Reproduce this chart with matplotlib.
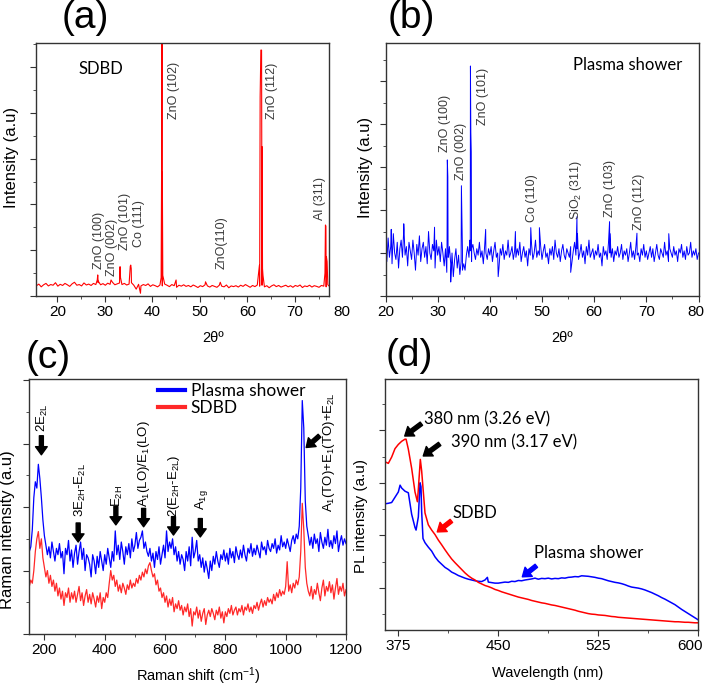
import numpy as np
import matplotlib
matplotlib.use('Agg')
import matplotlib.pyplot as plt
from matplotlib.lines import Line2D
from matplotlib.ticker import MultipleLocator

plt.rcParams['font.family'] = 'Liberation Sans'
plt.rcParams['mathtext.fontset'] = 'custom'
plt.rcParams['mathtext.rm'] = 'Liberation Sans'
plt.rcParams['mathtext.default'] = 'regular'

# ---------------- (a) XRD, SDBD ----------------
xa = np.arange(124) * 0.5 + 15.6
ya = [0.45,0.52,0.40,0.49,0.55,0.44,0.50,0.47,0.58,0.43,0.51,0.46,0.55,0.49,0.42,0.53,0.60,0.47,0.50,0.44,0.57,0.48,0.52,0.46,
      0.55,0.50,0.58,0.49,0.54,0.47,0.56,0.51,0.60,0.49,0.53,0.57,0.50,0.55,0.48,0.52,0.58,0.47,0.30,0.51,
      0.44,0.50,0.46,0.53,0.42,0.49,0.45,0.40,0.48,0.44,0.52,0.47,0.41,0.50,0.45,0.38,0.47,0.43,0.49,0.42,
      0.46,0.40,0.48,0.43,0.37,0.45,0.41,0.49,0.44,0.39,0.46,0.42,0.38,0.47,0.43,0.40,0.48,0.36,0.44,0.41,
      0.45,0.39,0.47,0.42,0.50,0.44,0.38,0.46,0.41,0.48,0.43,0.47,0.40,0.45,0.36,0.44,0.49,0.41,0.46,0.39,
      0.43,0.47,0.40,0.45,0.38,0.46,0.42,0.48,0.37,0.44,0.41,0.47,0.39,0.45,0.42,0.38,0.46,0.43,0.40,0.45]
peaks_a = [(28.4,0.70),(28.5,0.92),(28.6,0.65),(31.3,0.70),
           (33.1,0.90),(33.2,1.28),(33.3,0.80),
           (35.35,1.30),(35.45,1.35),(35.55,1.20),(37.5,0.12),
           (41.85,0.80),(41.95,5.65),(42.0,11.5),(42.05,11.5),(42.1,5.40),(42.2,0.90),
           (45.0,0.70),(51.2,0.62),(54.3,0.60),
           (62.55,1.35),(62.7,8.70),(62.85,10.74),(63.0,10.74),(63.1,6.52),(63.2,1.20),(63.3,0.90),
           (76.35,1.00),(76.45,3.10),(76.55,3.05),(76.65,1.72),(76.8,1.50),(76.95,0.50)]
labels_a = [("ZnO (102)", 44.6, 7.75), ("ZnO (112)", 65.3, 7.75), ("Al (311)", 75.2, 3.3),
            ("ZnO(110)", 54.5, 1.2), ("ZnO (100)", 28.7, 1.2), ("ZnO (002)", 31.4, 0.87),
            ("ZnO (101)", 34.3, 2.0), ("Co (111)", 37.2, 2.14)]

# ---------------- (b) XRD, plasma shower ----------------
xb = np.arange(241) * 0.25 + 20
yb = [2.4,1.6,2.7,1.8,2.3,1.5,2.9,2.0,1.7,2.5,1.3,2.2,2.6,1.8,3.1,1.9,2.3,1.4,2.5,2.1,
      1.7,2.6,2.0,1.2,2.4,1.9,2.8,1.6,2.2,2.5,1.8,2.3,1.5,3.0,2.0,1.7,2.4,2.1,1.3,2.6,
      1.9,2.3,1.6,2.5,2.0,1.4,2.2,1.1,1.8,2.3,1.5,2.0,0.9,1.7,2.2,1.3,1.9,1.0,1.6,2.1,
      1.5,1.2,1.9,2.3,1.8,2.1,1.6,2.4,2.0,1.7,2.2,1.9,2.5,1.8,2.1,1.5,2.3,2.0,1.7,2.2,
      1.9,2.3,1.6,2.1,2.5,1.8,2.0,1.3,2.2,1.9,2.4,1.7,2.1,1.9,2.6,1.8,2.0,2.3,1.7,2.1,
      1.8,2.2,1.9,2.5,1.6,2.0,2.3,1.8,2.1,1.4,2.2,1.9,2.4,1.7,2.0,2.6,1.8,2.1,1.9,2.3,
      1.7,2.1,2.4,1.8,2.0,1.5,2.2,1.9,2.3,1.7,2.6,2.0,1.8,2.2,1.6,2.1,2.4,1.9,1.7,2.2,
      2.0,1.8,2.3,1.6,2.1,2.5,1.9,2.2,1.7,2.0,2.4,1.8,2.1,1.5,2.3,1.9,2.6,1.8,2.0,2.2,
      1.7,2.1,1.9,2.4,1.8,2.0,1.4,2.3,1.9,2.1,1.7,2.5,2.0,1.8,2.2,1.6,2.1,1.9,2.3,1.8,
      2.0,2.4,1.7,2.1,1.9,2.2,1.6,2.0,2.5,1.8,2.1,1.7,2.3,1.9,2.0,1.6,2.2,1.9,2.4,1.8,
      2.1,1.7,2.0,2.3,1.8,2.2,1.6,2.0,2.4,1.9,1.7,2.2,2.0,1.8,2.5,1.9,2.1,1.6,2.2,2.0,
      1.8,2.3,1.9,2.1,1.6,2.2,2.0,2.4,1.8,2.1,1.7,2.3,1.9,2.0,2.5,1.8,2.1,1.9,2.2,1.7,
      2.0]
peaks_b = [(31.8,2.5),(31.85,6.33),(31.95,5.55),(32.05,1.8),
           (34.5,2.2),(34.55,5.13),(34.65,3.69),(34.75,1.2),
           (36.2,2.6),(36.28,10.7),(36.36,7.6),(36.44,6.7),(36.52,2.2),
           (21.1,3.1),(23.5,3.36),(29.4,3.2),(32.5,0.65),(39.2,3.1),(41.6,0.9),(44.9,3.0),
           (47.85,3.18),(49.5,3.18),(55.5,1.1),
           (56.7,3.69),(56.8,2.9),(62.95,3.46),(63.05,2.9),(68.2,2.92),(74.3,2.9)]
labels_b = [("ZnO (100)", 31.5, 6.71), ("ZnO (002)", 34.5, 5.4), ("ZnO (101)", 38.7, 7.95),
            ("Co (110)", 48.1, 3.46), ("SiO$_2$ (311)", 56.6, 3.53), ("ZnO (103)", 63.0, 3.69),
            ("ZnO (112)", 68.6, 3.07)]

# ---------------- (c) Raman ----------------
xc = np.arange(211) * 5 + 150
yc_plasma = [2.6,2.75,3.3,4.3,4.8,4.6,5.35,4.9,4.3,3.6,
             3.1,2.8,2.5,2.75,2.4,2.9,2.6,2.3,2.7,2.5,
             2.85,2.4,2.6,1.9,2.7,2.5,2.95,2.3,2.65,2.1,
             2.55,2.8,2.2,2.6,2.9,2.35,2.7,2.0,2.5,2.4,
             2.2,1.8,2.5,2.3,1.9,2.45,2.1,2.6,2.3,2.0,
             2.5,2.2,2.7,2.4,2.1,2.6,2.3,3.25,2.5,2.8,
             2.35,2.9,2.6,2.2,2.75,2.5,2.85,2.4,3.0,2.6,
             2.8,3.2,2.7,2.95,3.05,3.25,2.7,2.9,2.6,2.45,
             2.7,2.3,2.55,2.1,2.6,2.35,2.75,2.2,2.5,2.8,
             2.4,3.25,2.6,2.9,2.7,3.0,2.5,2.75,2.3,2.6,
             2.2,2.5,2.35,2.0,2.6,2.3,2.75,2.15,3.05,2.4,
             2.6,2.95,2.3,2.5,2.1,2.4,1.95,2.3,2.05,1.75,
             2.3,2.0,2.45,2.2,2.6,2.3,2.1,2.5,2.35,2.65,
             2.3,2.55,2.2,2.7,2.4,2.6,2.25,2.75,2.5,2.35,
             2.65,2.4,2.8,2.5,2.3,2.7,2.55,2.85,2.45,2.7,
             2.5,2.8,2.6,2.4,2.9,2.65,2.75,2.5,2.95,2.7,
             2.6,2.85,2.7,3.0,2.55,2.8,2.65,3.1,2.75,2.9,
             2.7,3.0,2.8,2.6,2.95,3.1,2.85,3.15,3.0,3.4,
             4.6,7.36,6.5,4.2,3.4,3.1,2.8,3.05,2.7,3.15,
             2.85,3.0,2.6,3.2,2.9,2.7,3.05,2.8,3.3,2.75,
             2.95,2.7,3.1,2.85,3.25,2.6,2.9,3.1,2.8,3.0,
             2.85]
yc_sdbd = [1.5,1.7,1.6,2.0,2.6,3.0,3.23,2.7,3.0,2.4,
           2.1,1.8,2.0,1.6,1.85,1.5,1.7,1.35,1.6,1.2,
           1.45,1.1,1.35,0.9,1.3,1.15,1.45,1.0,1.3,1.1,
           1.35,1.0,1.25,1.5,1.05,1.3,0.9,1.2,1.4,1.0,
           1.25,0.95,1.3,1.1,0.85,1.2,1.0,1.3,0.8,1.15,
           1.0,1.3,1.15,1.6,2.0,1.7,1.85,1.5,1.7,1.35,
           1.55,1.3,1.6,1.45,1.25,1.55,1.4,1.7,1.45,1.6,
           1.5,1.75,1.6,1.85,1.7,1.95,1.8,2.05,1.9,2.15,
           2.25,2.0,1.8,1.9,1.55,1.7,1.35,1.45,1.15,1.3,
           1.0,1.2,0.85,1.1,0.9,1.15,0.7,0.95,0.8,1.05,
           0.75,0.9,0.6,0.85,0.7,0.95,0.55,0.8,0.25,0.7,
           0.6,0.85,0.5,0.75,0.4,0.65,0.8,0.3,0.6,0.75,
           0.55,0.8,0.65,0.45,0.75,0.6,0.85,0.5,0.7,0.35,
           0.7,0.55,0.8,0.65,0.9,0.6,0.75,0.85,0.6,0.8,
           0.7,0.9,0.6,0.85,0.75,0.95,0.7,0.85,0.65,0.9,
           0.8,1.0,0.75,0.95,1.1,0.85,1.05,0.9,1.15,1.0,
           1.1,0.95,1.25,1.05,1.3,1.15,1.4,1.2,1.35,1.25,
           1.5,2.28,1.35,1.55,1.3,1.6,1.45,1.7,1.55,1.8,
           2.6,4.12,3.3,2.1,1.6,1.35,1.2,1.5,1.1,1.4,
           1.25,1.6,1.3,1.05,1.45,1.7,1.2,1.5,1.35,1.65,
           1.3,1.55,1.1,1.45,1.75,1.25,1.5,1.35,1.6,1.2,
           1.4]
# (label, text x, text bottom y, arrow tail, arrow tip)
modes_c = [("2E$_{2L}$", 195, 6.37, (190, 6.25), (190, 5.65)),
           ("3E$_{2H}$-E$_{2L}$", 321, 3.69, (312, 3.50), (312, 2.90)),
           ("E$_{2H}$", 442, 4.0, (437, 4.02), (437, 3.44)),
           ("A$_1$(LO)/E$_1$(LO)", 529, 4.0, (529, 3.96), (529, 3.38)),
           ("2(E$_{2H}$-E$_{2L}$)", 630, 3.69, (628, 3.70), (628, 3.12)),
           ("A$_{1g}$", 722, 3.91, (717, 3.64), (717, 3.06)),
           ("A$_1$(TO)+E$_1$(TO)+E$_{2L}$", 1144, 3.85, (1112, 6.25), (1068, 5.88))]

# ---------------- (d) PL ----------------
xd = np.arange(95) * 2.5 + 365
yd_sdbd = [4.80,4.74,4.98,5.30,5.46,5.58,5.66,5.28,4.55,3.65,3.75,4.45,2.85,2.40,2.20,2.03,1.82,1.64,1.45,1.27,
           1.10,0.96,0.83,0.70,0.57,0.46,0.37,0.30,0.21,0.15,0.09,0.05,0.00,-0.06,-0.10,-0.15,-0.19,-0.23,-0.27,-0.31,
           -0.35,-0.38,-0.41,-0.44,-0.48,-0.51,-0.54,-0.57,-0.59,-0.62,-0.65,-0.67,-0.70,-0.73,-0.76,-0.79,-0.82,-0.85,-0.89,-0.92,
           -0.95,-0.98,-1.00,-1.01,-1.03,-1.04,-1.05,-1.07,-1.09,-1.10,-1.12,-1.13,-1.14,-1.15,-1.16,-1.17,-1.18,-1.19,-1.20,-1.21,
           -1.22,-1.23,-1.24,-1.25,-1.26,-1.27,-1.28,-1.29,-1.29,-1.30,-1.31,-1.31,-1.32,-1.33,-1.33]
yd_plasma = [3.20,3.22,3.25,3.45,3.65,3.80,3.68,3.62,2.80,2.30,2.70,2.90,1.72,1.55,1.40,1.18,1.02,0.90,0.78,0.70,
             0.60,0.54,0.47,0.42,0.37,0.33,0.30,0.27,0.25,0.24,0.30,0.22,0.20,0.18,0.18,0.20,0.22,0.21,0.25,0.24,
             0.28,0.27,0.30,0.32,0.34,0.37,0.33,0.36,0.35,0.37,0.34,0.36,0.35,0.38,0.37,0.40,0.41,0.43,0.42,0.46,
             0.45,0.44,0.42,0.40,0.37,0.35,0.31,0.27,0.24,0.21,0.19,0.16,0.12,0.07,0.03,0.01,-0.01,-0.04,-0.08,-0.13,
             -0.18,-0.24,-0.30,-0.37,-0.43,-0.50,-0.57,-0.64,-0.73,-0.82,-0.90,-0.98,-1.06,-1.14,-1.22]
peaks_d_sdbd = [(380.8,5.66),(389.3,3.28),(391.5,4.89)]
peaks_d_plasma = [(376.3,3.91),(388.3,2.20),(391.3,4.00),(392.0,3.85),(393.5,1.88),(441.8,0.40)]


def merge(xs, ys, extra):
    ex = np.array(extra)
    x = np.concatenate([np.asarray(xs, float), ex[:, 0]])
    y = np.concatenate([np.asarray(ys, float), ex[:, 1]])
    o = np.argsort(x, kind='stable')
    return x[o], y[o]


W, H = 708, 686
fig = plt.figure(figsize=(W / 100, H / 100), dpi=100)
TICK = 11


def px_axes(l, t, r, b):
    return fig.add_axes([l / W, 1 - b / H, (r - l) / W, (b - t) / H])


def style(ax):
    for s in ax.spines.values():
        s.set_color('#333333')
        s.set_linewidth(1.0)
    ax.tick_params(which='both', direction='out', top=False, right=False,
                   color='#333333', labelcolor='black', labelsize=TICK, labelleft=False)
    ax.tick_params(which='major', length=4, pad=2.5)
    ax.tick_params(which='minor', length=2.5)


def end_label(ax, xval, text, dx):
    # last tick label, nudged so that it stays inside the picture
    ax.annotate(text, xy=(xval, 0), xycoords=('data', 'axes fraction'), xytext=(dx, -6.5),
                textcoords='offset points', ha='center', va='top', fontsize=TICK,
                annotation_clip=False)


def arrow(ax, tail, tip, color='black'):
    ax.annotate('', xy=tip, xytext=tail,
                arrowprops=dict(arrowstyle='simple,head_length=0.45,head_width=0.65,tail_width=0.22',
                                fc=color, ec=color, mutation_scale=13, shrinkA=0, shrinkB=0))


gray = '#3a3a3a'
calib = 'Lato'

# (a)
ax = px_axes(36, 43, 329, 296)
x, y = merge(xa, ya, peaks_a)
ax.plot(x, y, color='#ff0000', lw=0.8)
ax.set_xlim(15.5, 77.2)
ax.set_ylim(0, 11.05)
ax.set_xticks(range(20, 80, 10))
ax.xaxis.set_minor_locator(MultipleLocator(5))
ax.yaxis.set_major_locator(MultipleLocator(2))
ax.yaxis.set_minor_locator(MultipleLocator(1))
style(ax)
end_label(ax, 80, '80', 0)
for t, lx, ly in labels_a:
    ax.text(lx, ly, t, rotation=90, ha='center', va='bottom', fontsize=9, color=gray)
ax.text(0.222, 0.899, 'SDBD', transform=ax.transAxes, ha='center', va='center',
        fontsize=12, family=calib)

# (b)
ax = px_axes(385.5, 43, 698.5, 296)
x, y = merge(xb, yb, peaks_b)
ax.plot(x, y, color='#0000ff', lw=0.7)
ax.set_xlim(20, 80)
ax.set_ylim(0, 11.77)
ax.set_xticks(range(20, 81, 10), ['20', '30', '40', '50', '60', '70', ''])
ax.xaxis.set_minor_locator(MultipleLocator(5))
ax.yaxis.set_major_locator(MultipleLocator(2))
ax.yaxis.set_minor_locator(MultipleLocator(1))
style(ax)
end_label(ax, 80, '80', -2)
for t, lx, ly in labels_b:
    ax.text(lx, ly, t, rotation=90, ha='center', va='bottom', fontsize=9, color=gray)
ax.text(0.773, 0.913, 'Plasma shower', transform=ax.transAxes, ha='center', va='center',
        fontsize=12, family=calib)

# (c)
ax = px_axes(29.3, 379.3, 346, 634)
ax.plot(xc, yc_plasma, color='#0000ff', lw=0.9)
ax.plot(xc, yc_sdbd, color='#ff2828', lw=0.9)
ax.set_xlim(150, 1200)
ax.set_ylim(0, 8.03)
ax.set_xticks(range(200, 1201, 200))
ax.xaxis.set_minor_locator(MultipleLocator(100))
ax.yaxis.set_major_locator(MultipleLocator(2))
ax.yaxis.set_minor_locator(MultipleLocator(1))
style(ax)
for t, lx, ly, tail, tip in modes_c:
    ax.text(lx, ly, t, rotation=90, ha='center', va='bottom', fontsize=9.5)
    arrow(ax, tail, tip)
handles = [Line2D([], [], color='#0000ff', lw=3), Line2D([], [], color='#ff2828', lw=3)]
ax.legend(handles, ['Plasma shower', 'SDBD'], loc='upper left', bbox_to_anchor=(0.405, 0.985),
          frameon=False, borderpad=0, borderaxespad=0, labelspacing=0.05, handlelength=1.6,
          handletextpad=0.3, prop={'family': calib, 'size': 12.5})

# (d)
ax = px_axes(385, 379.3, 698.3, 629.5)
x, y = merge(xd, yd_plasma, peaks_d_plasma)
ax.plot(x, y, color='#0000ff', lw=1.1)
x, y = merge(xd, yd_sdbd, peaks_d_sdbd)
ax.plot(x, y, color='#ff0000', lw=1.1)
ax.set_xlim(365, 600)
ax.set_ylim(-1.585, 7.94)
ax.set_xticks([375, 450, 525, 600], ['375', '450', '525', ''])
ax.xaxis.set_minor_locator(MultipleLocator(37.5))
ax.yaxis.set_major_locator(MultipleLocator(2))
ax.yaxis.set_minor_locator(MultipleLocator(1))
style(ax)
end_label(ax, 600, '600', -6)
ax.text(394.3, 6.41, '380 nm (3.26 eV)', ha='left', va='center', fontsize=12, family=calib)
arrow(ax, (392.3, 6.25), (379.8, 5.78))
ax.text(414.3, 5.53, '390 nm (3.17 eV)', ha='left', va='center', fontsize=12, family=calib)
arrow(ax, (406.0, 5.48), (393.7, 5.02))
ax.text(415.3, 2.86, 'SDBD', ha='left', va='center', fontsize=12, family=calib)
arrow(ax, (414.8, 2.55), (404.2, 2.13), '#ff0000')
ax.text(476.8, 1.31, 'Plasma shower', ha='left', va='center', fontsize=12, family=calib)
arrow(ax, (478.5, 0.84), (468, 0.42), '#0000ff')

# panel letters and axis titles
for t, l, tp in [('(a)', 62, 0), ('(b)', 388, 0), ('(c)', 26, 340), ('(d)', 386, 338)]:
    fig.text(l / W, 1 - tp / H, t, ha='left', va='top', fontsize=28)
for cx in (213, 562):
    fig.text(cx / W, 1 - 338 / H, '2θº', ha='center', va='center', fontsize=10.5)
fig.text(198 / W, 1 - 676 / H, 'Raman shift (cm$^{-1}$)', ha='center', va='center', fontsize=10.5)
fig.text(548 / W, 1 - 673 / H, 'Wavelength (nm)', ha='center', va='center', fontsize=10.5)
fig.text(11.5 / W, 1 - 157 / H, 'Intensity (a.u)', rotation=90, ha='center', va='center', fontsize=12)
fig.text(365.5 / W, 1 - 167 / H, 'Intensity (a.u)', rotation=90, ha='center', va='center', fontsize=12)
fig.text(7.5 / W, 1 - 530 / H, 'Raman intensity (a.u)', rotation=90, ha='center', va='center', fontsize=12)
fig.text(361.5 / W, 1 - 516 / H, 'PL intensity (a.u)', rotation=90, ha='center', va='center', fontsize=11)

fig.savefig('out.png', dpi=100)
